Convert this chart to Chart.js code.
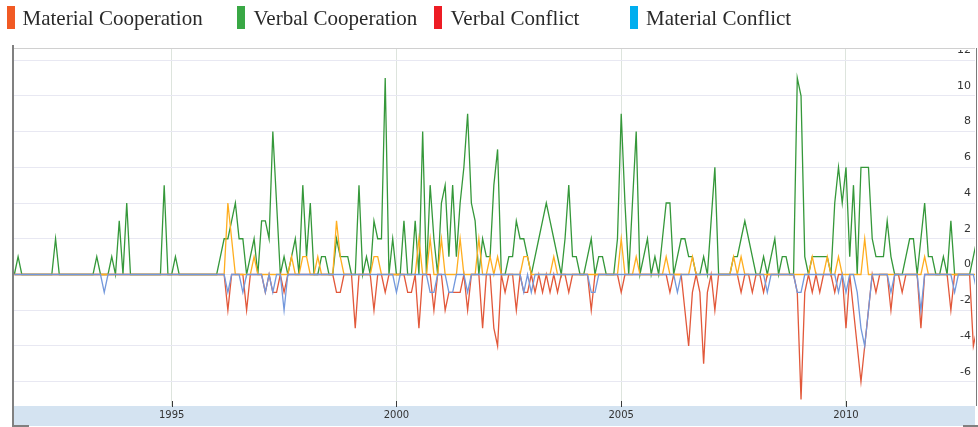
<!DOCTYPE html>
<html>
<head>
<meta charset="utf-8">
<title>Event counts</title>
<script src="https://cdn.jsdelivr.net/npm/chart.js@4.4.1/dist/chart.umd.min.js"></script>
<style>
  html, body { margin: 0; padding: 0; background: #fff; overflow: hidden; }
  #wrap { position: relative; width: 978px; height: 427px; }
  #chart { position: absolute; left: 0; top: 0; }
  .box { position: absolute; top: 6px; width: 8px; height: 23px; }
  .label { position: absolute; top: 6px; line-height: 24px; white-space: nowrap;
           font-family: "Liberation Serif", "Times New Roman", serif; font-size: 21px; color: #2a2a2a; }
</style>
</head>
<body>
<div id="wrap">
  <canvas id="chart" width="978" height="427"></canvas>
  <div id="legend"></div>
</div>
<script>
// monthly series, first value is July 1991
const startYear = 1991.5;
const xTicks = [1995, 2000, 2005, 2010];
const yTicks = [-6, -4, -2, 0, 2, 4, 6, 8, 10, 12];

const legendNames = ['Material Cooperation', 'Verbal Cooperation', 'Verbal Conflict', 'Material Conflict'];
const legendColors = ['#f15a24', '#39a845', '#ed1c24', '#00aeef'];
const lineColors = ['#ffae1f', '#35983a', '#e2583a', '#7398dc'];

const materialCooperation = [
  0,0,0,0,0,0,0,0,0,0,0,0,
  0,0,0,0,0,0,0,0,0,0,0,0,
  0,0,0,0,0,0,0,0,0,0,0,0,
  0,0,0,0,0,0,0,0,0,0,0,0,
  0,0,0,0,0,0,0,0,0,4,2,0,
  0,0,0,0,1,0,0,0,0,0,0,0,
  0,0,1,0,0,1,1,0,0,1,0,0,
  0,0,3,1,0,0,0,0,0,0,0,0,
  1,1,0,0,0,0,0,0,0,0,0,0,
  2,0,0,2,0,0,2,0,0,0,0,2,
  0,0,0,0,2,0,0,1,0,1,0,0,
  0,0,0,0,1,1,0,0,0,0,0,0,
  1,0,0,0,0,0,0,0,0,0,0,0,
  0,0,0,0,0,0,2,0,0,0,1,0,
  0,0,0,0,0,0,1,0,0,0,0,0,
  0,1,0,0,0,0,0,0,0,0,0,0,
  1,0,1,0,0,0,0,0,0,0,0,0,
  0,0,0,0,0,0,0,0,0,1,0,0,
  0,1,0,0,1,0,0,0,0,0,0,2,
  0,0,0,0,0,0,0,0,0,0,0,0,
  0,0,0,1,0,0,0,0,0,0,0,0,
  0,0,0,0,0,0
];

const verbalCooperation = [
  0,1,0,0,0,0,0,0,0,0,0,2,
  0,0,0,0,0,0,0,0,0,0,1,0,
  0,0,1,0,3,0,4,0,0,0,0,0,
  0,0,0,0,5,0,0,1,0,0,0,0,
  0,0,0,0,0,0,0,1,2,2,3,4,
  2,2,0,1,2,0,3,3,2,8,4,0,
  1,0,1,2,0,5,1,4,0,0,1,1,
  0,0,2,1,1,1,0,0,5,0,1,0,
  3,2,2,11,0,2,0,0,3,0,0,3,
  0,8,0,5,2,0,4,5,1,5,1,4,
  6,9,4,3,0,2,1,1,5,7,0,0,
  1,1,3,2,2,1,0,1,2,3,4,3,
  2,1,0,2,5,1,1,0,0,1,2,0,
  1,1,0,0,0,2,9,4,0,4,8,0,
  1,2,0,1,0,2,4,4,0,1,2,2,
  1,1,0,0,1,0,3,6,0,0,0,0,
  1,1,2,3,2,1,0,0,1,0,1,2,
  0,1,1,0,0,11,10,1,0,1,1,1,
  1,1,0,4,6,4,6,1,5,0,6,6,
  6,2,1,1,1,3,1,0,0,0,1,2,
  2,0,2,4,1,1,0,0,1,0,3,0,
  0,0,0,0,1,2
];

const verbalConflict = [
  0,0,0,0,0,0,0,0,0,0,0,0,
  0,0,0,0,0,0,0,0,0,0,0,0,
  0,0,0,0,0,0,0,0,0,0,0,0,
  0,0,0,0,0,0,0,0,0,0,0,0,
  0,0,0,0,0,0,0,0,0,-2,0,0,
  0,0,-2,0,0,0,0,-1,0,-1,-1,0,
  -1,0,0,0,0,0,0,0,0,0,0,0,
  0,0,-1,-1,0,0,0,-3,0,0,0,0,
  -2,0,0,-1,0,0,0,0,0,-1,-1,0,
  -3,0,0,0,-2,0,0,-2,-1,-1,-1,-1,
  0,-2,0,0,0,-3,0,0,-3,-4,0,-1,
  0,0,-2,0,-1,-1,0,-1,0,-1,0,-1,
  0,-1,0,0,-1,0,0,0,0,0,-2,0,
  0,0,0,0,0,0,-1,0,0,0,0,0,
  0,0,0,0,0,0,0,-1,0,0,0,-2,
  -4,-1,0,-1,-5,-1,0,-2,0,0,0,0,
  0,0,-1,0,0,-1,0,0,-1,0,0,0,
  0,0,0,0,0,-1,-7,-1,0,-1,0,-1,
  0,0,0,-1,0,0,-3,0,-2,-4,-6,-4,
  -2,0,-1,0,0,0,-2,0,0,-1,0,0,
  0,0,-3,0,0,0,0,0,0,0,-2,0,
  0,0,0,0,-4,-3
];

const materialConflict = [
  0,0,0,0,0,0,0,0,0,0,0,0,
  0,0,0,0,0,0,0,0,0,0,0,0,
  -1,0,0,0,0,0,0,0,0,0,0,0,
  0,0,0,0,0,0,0,0,0,0,0,0,
  0,0,0,0,0,0,0,0,0,-1,0,0,
  0,-1,0,0,0,0,0,-1,0,-1,0,0,
  -2,0,0,0,0,0,0,0,0,0,0,0,
  0,0,0,0,0,0,0,0,0,0,0,0,
  0,0,0,0,0,0,-1,0,0,0,0,0,
  0,0,0,-1,-1,0,0,0,-1,-1,0,0,
  0,-1,0,0,0,0,0,0,0,0,0,0,
  0,0,0,0,-1,0,-1,0,0,0,0,0,
  0,0,0,0,0,0,0,0,0,0,-1,-1,
  0,0,0,0,0,0,0,0,0,0,0,0,
  0,0,0,0,0,0,0,0,0,-1,0,0,
  0,0,0,0,0,0,0,0,0,0,0,0,
  0,0,0,0,0,0,0,0,0,-1,0,0,
  0,0,0,0,0,-1,-1,0,0,0,0,0,
  0,0,0,0,-1,0,-1,0,0,-1,-3,-4,
  -2,0,0,0,0,0,-1,0,0,0,0,0,
  0,0,-2,0,0,0,0,0,0,0,0,-1,
  0,0,0,0,0,-1
];

// legend, laid out like the original table of swatches
const legendBoxX = [7, 237, 434, 630];
const legendTextX = [22.5, 253.5, 450.5, 646];
const legend = document.getElementById('legend');
legendNames.forEach((name, i) => {
    const box = document.createElement('div');
    box.className = 'box';
    box.style.left = legendBoxX[i] + 'px';
    box.style.background = legendColors[i];
    legend.appendChild(box);
    const label = document.createElement('div');
    label.className = 'label';
    label.style.left = legendTextX[i] + 'px';
    label.textContent = name;
    legend.appendChild(label);
});

function toPoints(values) {
    return values.map((v, i) => ({ x: startYear + i / 12, y: v }));
}

const frame = {
    id: 'frame',
    beforeDraw(chart) {
        const { ctx, chartArea: a } = chart;
        ctx.save();
        ctx.fillStyle = '#d4e3f1';
        ctx.fillRect(a.left, a.bottom, a.right - a.left, 20);
        ctx.restore();
    },
    afterDraw(chart) {
        const { ctx, chartArea: a, scales } = chart;
        ctx.save();
        // the top label is cut by the frame in the original
        ctx.fillStyle = '#fff';
        ctx.fillRect(a.right - 40, a.top - 12, 43, 13);
        ctx.fillStyle = '#d0d0d0';
        ctx.fillRect(a.left, a.top - 1, a.right - a.left, 1);
        ctx.fillStyle = '#808080';
        ctx.fillRect(12, 45, 2, 382);
        ctx.fillRect(12, 425, 17, 2);
        ctx.fillRect(963, 425, 15, 2);
        ctx.fillStyle = '#7a7a7a';
        ctx.fillRect(a.right + 1, a.top - 1, 1, a.bottom - a.top + 1);
        ctx.strokeStyle = '#3a3a3a';
        ctx.lineWidth = 1;
        xTicks.forEach(v => {
            const x = Math.round(scales.x.getPixelForValue(v)) + 0.5;
            ctx.beginPath();
            ctx.moveTo(x, a.bottom - 5);
            ctx.lineTo(x, a.bottom + 1);
            ctx.stroke();
        });
        ctx.restore();
    }
};

const series = [materialCooperation, verbalCooperation, verbalConflict, materialConflict];
const drawOrder = [1, 3, 2, 0];

new Chart(document.getElementById('chart'), {
    type: 'line',
    data: {
        datasets: series.map((values, i) => ({
            label: legendNames[i],
            data: toPoints(values),
            borderColor: lineColors[i],
            backgroundColor: legendColors[i],
            order: drawOrder[i]
        }))
    },
    options: {
        responsive: false,
        animation: false,
        layout: { padding: { left: 13, right: 3, top: 49, bottom: 1 } },
        elements: {
            point: { radius: 0 },
            line: { borderWidth: 1.3, tension: 0 }
        },
        plugins: {
            legend: { display: false },
            tooltip: { enabled: false }
        },
        scales: {
            x: {
                type: 'linear',
                min: 1991.47,
                max: 2012.87,
                afterBuildTicks: scale => { scale.ticks = xTicks.map(v => ({ value: v })); },
                afterFit: scale => { scale.height = 20; },
                border: { display: false },
                grid: { color: '#dde4dd', drawTicks: false },
                ticks: {
                    padding: 3,
                    autoSkip: false,
                    maxRotation: 0,
                    color: '#333',
                    font: { family: 'DejaVu Sans', size: 10 },
                    callback: v => String(v)
                }
            },
            y: {
                position: 'right',
                min: -7.36,
                max: 12.62,
                afterBuildTicks: scale => { scale.ticks = yTicks.map(v => ({ value: v })); },
                afterFit: scale => { scale.width = 0; },
                border: { display: false },
                grid: { color: '#e8e8f2', drawTicks: false },
                ticks: {
                    mirror: true,
                    padding: -4,
                    labelOffset: -10,
                    color: '#333',
                    font: { family: 'DejaVu Sans', size: 11 },
                    callback: v => String(v)
                }
            }
        }
    },
    plugins: [frame]
});
</script>
</body>
</html>
